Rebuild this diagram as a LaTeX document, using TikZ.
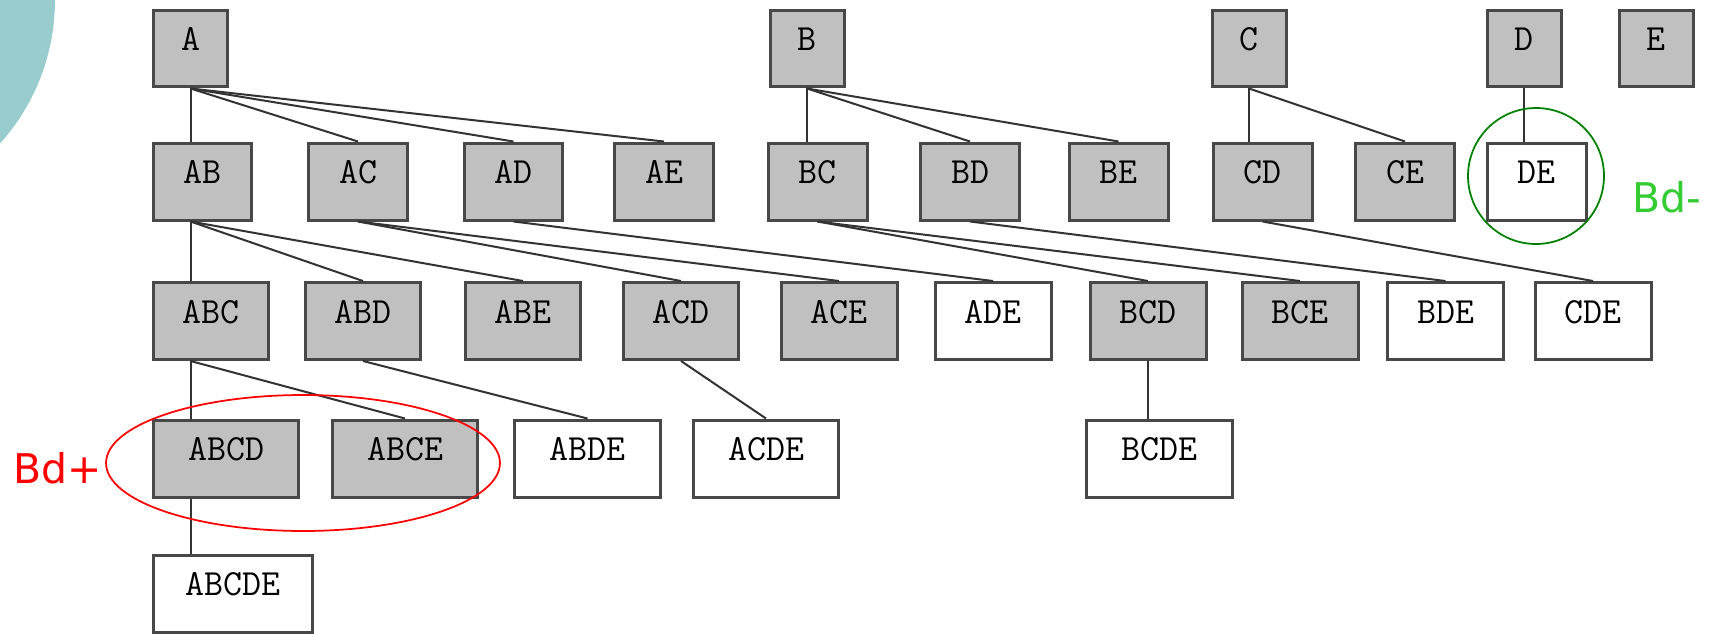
\documentclass[tikz,border=0pt]{standalone}
\usepackage{fontspec}
\newfontfamily\notefont{DejaVu Sans}
\definecolor{slide}{RGB}{153,204,204}
\definecolor{boxfill}{RGB}{192,192,192}
\definecolor{boxline}{RGB}{72,72,72}
\definecolor{notegreen}{RGB}{51,204,51}
\definecolor{ringgreen}{RGB}{0,128,0}
\tikzset{
  itemset/.style={draw=boxline, line width=0.06cm, minimum height=1.54cm, inner sep=0pt,
    font=\ttfamily\fontsize{21}{23}\selectfont, text height=0.45cm, text depth=0.36cm},
  frequent/.style={itemset, fill=boxfill},
  rare/.style={itemset, fill=white},
  k1/.style={minimum width=1.48cm},
  k2/.style={minimum width=1.98cm},
  k3/.style={minimum width=2.32cm},
  k4/.style={minimum width=2.92cm},
  k5/.style={minimum width=3.2cm},
  link/.style={line width=0.04cm, draw=black!80},
  note/.style={font=\notefont\fontsize{23.3}{26}\selectfont, inner sep=0pt, anchor=base west},
}

\begin{document}
\begin{tikzpicture}[x=0.02cm, y=-0.02cm]
\useasboundingbox (0,0) rectangle (1717,633);
\clip (0,0) rectangle (1717,633);
\fill[slide] (-160,0) circle (4.3cm);
% level 1
\node[frequent,k1] (A) at (190.5,48.5) {A};
\node[frequent,k1] (B) at (807,48.5) {B};
\node[frequent,k1] (C) at (1249,48.5) {C};
\node[frequent,k1] (D) at (1524,48.5) {D};
\node[frequent,k1] (E) at (1656,48.5) {E};
% level 2
\node[frequent,k2] (AB) at (202.5,181.5) {AB};
\node[frequent,k2] (AC) at (358,181.5) {AC};
\node[frequent,k2] (AD) at (513.5,181.5) {AD};
\node[frequent,k2] (AE) at (664,181.5) {AE};
\node[frequent,k2] (BC) at (817.5,181.5) {BC};
\node[frequent,k2] (BD) at (970,181.5) {BD};
\node[frequent,k2] (BE) at (1118.5,181.5) {BE};
\node[frequent,k2] (CD) at (1262.5,181.5) {CD};
\node[frequent,k2] (CE) at (1405,181.5) {CE};
\node[rare,k2] (DE) at (1536.5,181.5) {DE};
% level 3
\node[frequent,k3] (ABC) at (211,321) {ABC};
\node[frequent,k3] (ABD) at (363,321) {ABD};
\node[frequent,k3] (ABE) at (523,321) {ABE};
\node[frequent,k3] (ACD) at (681,321) {ACD};
\node[frequent,k3] (ACE) at (839,321) {ACE};
\node[rare,k3] (ADE) at (993,321) {ADE};
\node[frequent,k3] (BCD) at (1148,321) {BCD};
\node[frequent,k3] (BCE) at (1300,321) {BCE};
\node[rare,k3] (BDE) at (1445.5,321) {BDE};
\node[rare,k3] (CDE) at (1593,321) {CDE};
% level 4
\node[frequent,k4] (ABCD) at (226,458.5) {ABCD};
\node[frequent,k4] (ABCE) at (405,458.5) {ABCE};
\node[rare,k4] (ABDE) at (587.5,458.5) {ABDE};
\node[rare,k4] (ACDE) at (766,458.5) {ACDE};
\node[rare,k4] (BCDE) at (1159,458.5) {BCDE};
% level 5
\node[rare,k5] (ABCDE) at (233,593.5) {ABCDE};
% left spine
\draw[link] (A.south) -- (A.south |- AB.north);
\foreach \p/\c in {AB/ABC, ABC/ABCD, ABCD/ABCDE}
  \draw[link] (A.south |- \p.south) -- (A.south |- \c.north);
\foreach \p/\c in {AB/ABD, AB/ABE, ABC/ABCE}
  \draw[link] (A.south |- \p.south) -- (\c.north);
% straight down to the first child
\foreach \p/\c in {B/BC, C/CD, D/DE, BCD/BCDE}
  \draw[link] (\p.south) -- (\p.south |- \c.north);
% other edges
\foreach \p/\c in {A/AC, A/AD, A/AE, B/BD, B/BE, C/CE,
    AC/ACD, AC/ACE, AD/ADE, BC/BCD, BC/BCE, BD/BDE, CD/CDE,
    ABD/ABDE, ACD/ACDE}
  \draw[link] (\p.south) -- (\c.north);
% borders
\draw[red, line width=0.035cm] (303,463) ellipse [x radius=3.94cm, y radius=1.36cm];
\draw[ringgreen, line width=0.035cm] (1536,176) circle (1.36cm);
\node[note, text=red] (bdplus) at (13,483) {Bd+};
\node[note, text=notegreen] (bdminus) at (1632,212) {Bd-};
\end{tikzpicture}
\end{document}
